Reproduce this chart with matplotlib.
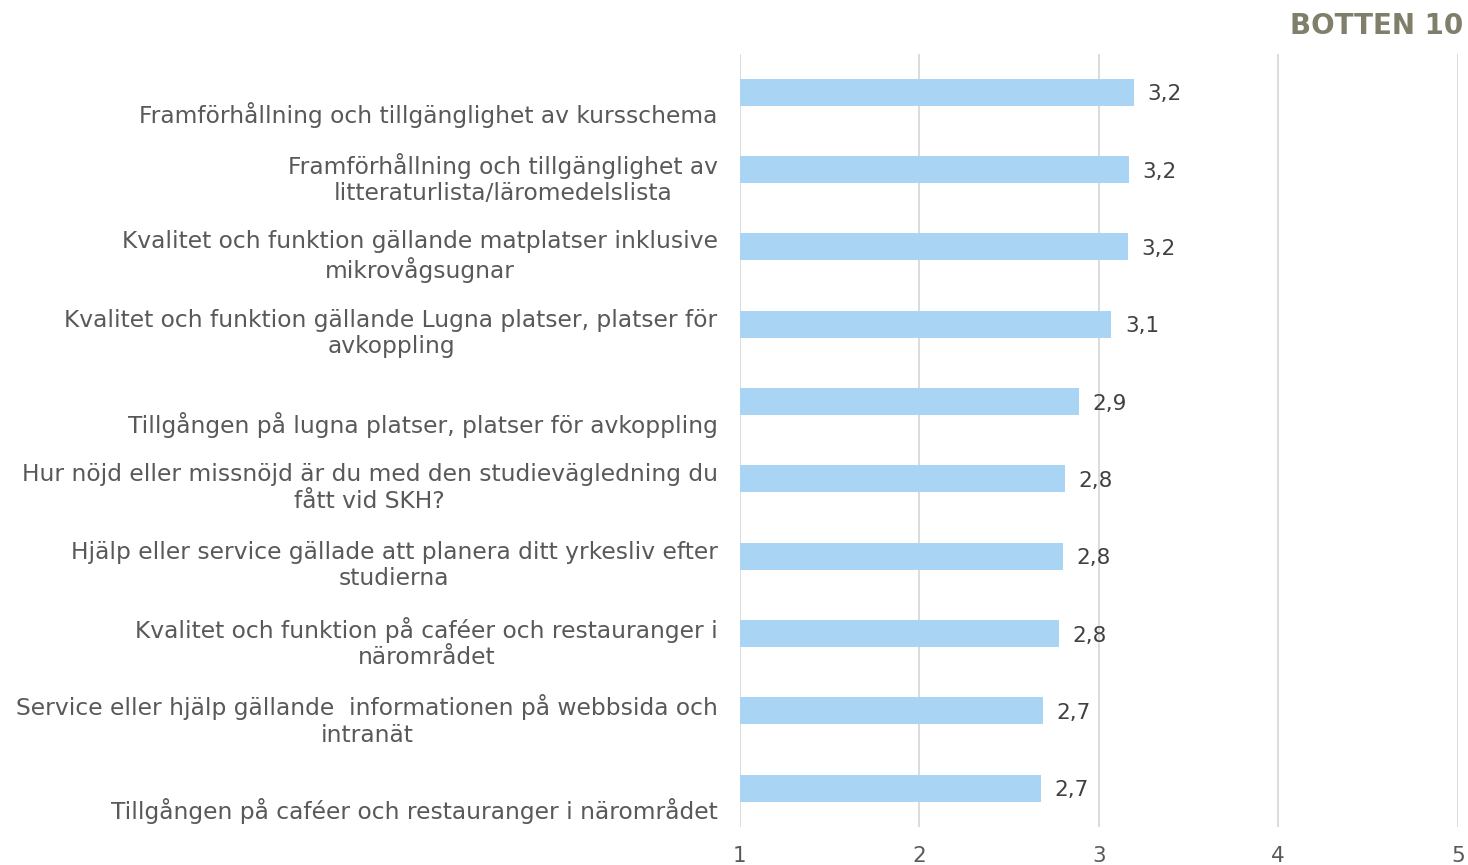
import matplotlib
matplotlib.use("Agg")
import matplotlib.pyplot as plt
import matplotlib.transforms as mtransforms
import numpy as np

# data (top to bottom)
labels = [
    "\nFramförhållning och tillgänglighet av kursschema",
    "Framförhållning och tillgänglighet av\nlitteraturlista/läromedelslista",
    "Kvalitet och funktion gällande matplatser inklusive\nmikrovågsugnar",
    "Kvalitet och funktion gällande Lugna platser, platser för\navkoppling",
    "\nTillgången på lugna platser, platser för avkoppling",
    "Hur nöjd eller missnöjd är du med den studievägledning du\nfått vid SKH?",
    "Hjälp eller service gällade att planera ditt yrkesliv efter\nstudierna",
    "Kvalitet och funktion på caféer och restauranger i\nnärområdet",
    "Service eller hjälp gällande  informationen på webbsida och\nintranät",
    "\nTillgången på caféer och restauranger i närområdet",
]
values = [3.195, 3.17, 3.16, 3.07, 2.89, 2.81, 2.80, 2.78, 2.69, 2.68]
xticks = [1, 2, 3, 4, 5]
title = "BOTTEN 10"

bar_color = "#A9D4F4"
grid_color = "#D9D9D9"
text_color = "#595959"

fig = plt.figure(figsize=(14.68, 8.65), dpi=100)
ax = fig.add_axes([0.504, 0.044, 0.489, 0.894])

y = np.arange(len(values))
ax.barh(y, values, height=0.35, color=bar_color, zorder=2)

ax.set_xlim(1, 5)
ax.set_ylim(len(values) - 0.5, -0.5)
ax.set_xticks(xticks)
ax.set_yticks(y)
ax.set_yticklabels(labels, fontsize=16.8, color=text_color)
ax.tick_params(axis="both", length=0)
ax.tick_params(axis="y", pad=16)
ax.tick_params(axis="x", pad=14, labelsize=15.5, labelcolor=text_color)
ax.xaxis.grid(True, color=grid_color, linewidth=1.3, zorder=0)
for s in ax.spines.values():
    s.set_visible(False)

# labels sit a little below the bar centre in the original
offset = mtransforms.ScaledTranslation(0, -5 / 100, fig.dpi_scale_trans)
for lab in ax.get_yticklabels():
    lab.set_multialignment("center")
    lab.set_transform(lab.get_transform() + offset)

for yi, v in zip(y, values):
    ax.text(v + 0.075, yi, f"{v:.1f}".replace(".", ","), va="center_baseline",
            ha="left", fontsize=15.5, color="#404040")

fig.text(0.997, 0.970, title, ha="right", va="center", fontsize=20,
         fontweight="bold", color="#7F7F6B")

fig.savefig("out.png", dpi=100)
